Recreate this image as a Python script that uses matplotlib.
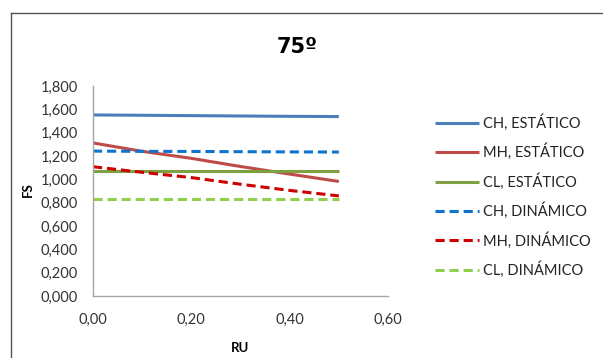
import matplotlib.pyplot as plt
from matplotlib.lines import Line2D
from matplotlib.ticker import FuncFormatter

plt.rcParams['font.family'] = ['Lato', 'DejaVu Sans']

ru = [0.0, 0.1, 0.2, 0.3, 0.4, 0.5]
ch_est = [1.552, 1.549, 1.546, 1.543, 1.540, 1.538]
mh_est = [1.312, 1.240, 1.180, 1.110, 1.045, 0.982]
cl_est = [1.070, 1.070, 1.070, 1.070, 1.070, 1.070]
ch_din = [1.242, 1.240, 1.239, 1.237, 1.235, 1.234]
mh_din = [1.108, 1.060, 1.015, 0.958, 0.905, 0.858]
cl_din = [0.830, 0.830, 0.830, 0.830, 0.830, 0.830]

labels = ['CH, ESTÁTICO', 'MH, ESTÁTICO', 'CL, ESTÁTICO',
          'CH, DINÁMICO', 'MH, DINÁMICO', 'CL, DINÁMICO']
series = [ch_est, mh_est, cl_est, ch_din, mh_din, cl_din]
colors = ['#4a7ebb', '#be4b48', '#7ea040', '#0f73d0', '#cc0000', '#8fd14f']
styles = ['-', '-', '-', (0, (3, 1.6)), (0, (3, 1.6)), (0, (3, 1.6))]

fig = plt.figure(figsize=(6.03, 3.58), dpi=100)
ax = fig.add_axes([93/603, 1-296/358, (388-93)/603, (296-86)/358])

for y, c, ls, lab in zip(series, colors, styles, labels):
    ax.plot(ru, y, color=c, linestyle=ls, linewidth=2.2, label=lab,
            solid_capstyle='butt', dash_capstyle='butt')

ax.set_xlim(0, 0.6)
ax.set_ylim(0, 1.8)
ax.set_xticks([0, 0.2, 0.4, 0.6])
ax.set_yticks([i * 0.2 for i in range(10)])
ax.xaxis.set_major_formatter(FuncFormatter(lambda v, p: f'{v:.2f}'.replace('.', ',')))
ax.yaxis.set_major_formatter(FuncFormatter(lambda v, p: f'{v:,.3f}'.replace('.', ',')))
ax.tick_params(length=0, labelsize=10.5, colors='#333333', pad=11)
ax.tick_params(axis='x', pad=12)
for s in ['top', 'right']:
    ax.spines[s].set_visible(False)
for s in ['left', 'bottom']:
    ax.spines[s].set_color('#a6a6a6')
    ax.spines[s].set_linewidth(1)

fig.text(297/603, 1-47/358, '75º', ha='center', va='center',
         fontsize=15, fontweight='bold', family='DejaVu Sans')
fig.text(28/603, 1-190/358, 'FS', ha='center', va='center', rotation=90,
         fontsize=9.5, fontweight='bold')
fig.text(240/603, 1-348/358, 'RU', ha='center', va='center',
         fontsize=9.5, fontweight='bold')

leg = fig.legend(loc='upper left', bbox_to_anchor=(422/603, 1-101/358),
                 frameon=False, fontsize=10.5, handlelength=3.0,
                 handletextpad=0.3, labelspacing=0.88)
for t in leg.get_texts():
    t.set_color('#222222')

# chart frame
fig.add_artist(Line2D([11/603, 1], [1-13/358, 1-13/358], color='#555555', lw=1))
fig.add_artist(Line2D([11/603, 11/603], [0, 1-13/358], color='#555555', lw=1))

fig.savefig('out.png', dpi=100)
